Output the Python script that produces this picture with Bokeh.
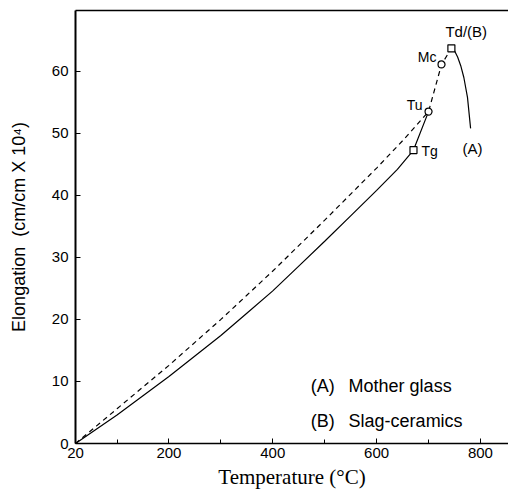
from bokeh.plotting import figure
from bokeh.models import LinearAxis, FixedTicker, Range1d, ColumnDataSource, Label
from bokeh.core.properties import value
from bokeh.embed import file_html
from bokeh.resources import INLINE

# ---- data ----
# (A) Mother glass, solid, up to Tu
temp_A = [20, 60, 100, 150, 200, 250, 300, 350, 400, 450, 500, 550, 600, 640, 671, 700]
elong_A = [0, 2.3, 4.6, 7.7, 10.8, 14.1, 17.4, 21.0, 24.6, 28.6, 32.6, 36.7, 40.8, 44.2, 47.3, 53.5]
# (A) softening branch after Td
temp_A2 = [744, 750, 756, 762, 768, 775, 781]
elong_A2 = [63.7, 63.3, 62.3, 60.9, 59.0, 55.8, 50.8]
# (B) Slag-ceramics, dashed, up to Td
temp_B = [20, 60, 100, 150, 200, 250, 300, 350, 400, 450, 500, 550, 600, 650, 700, 725, 744]
elong_B = [0, 2.8, 5.6, 9.1, 12.6, 16.3, 20.0, 23.9, 27.8, 31.9, 36.0, 40.2, 44.4, 48.8, 53.5, 61.1, 63.7]
# characteristic points
pt_names = ["Tg", "Tu", "Mc", "Td"]
pt_temp = [671, 700, 725, 744]
pt_elong = [47.3, 53.5, 61.1, 63.7]
pt_marker = ["square", "circle", "circle", "square"]

x_major = [20, 200, 400, 600, 800]
x_minor = [100, 300, 500, 700]
y_major = [0, 10, 20, 30, 40, 50, 60]

FONT = "Liberation Sans"
NB = "\u00a0"

p = figure(width=508, height=498, output_backend="svg", toolbar_location=None,
           x_range=Range1d(20, 854), y_range=Range1d(0, 69.8),
           min_border_left=75, min_border_right=0, min_border_top=10, min_border_bottom=55,
           x_axis_label="Temperature (°C)",
           y_axis_label="Elongation" + NB + NB + "(cm/cm X 10⁴)")
p.grid.visible = False
p.outline_line_color = None

xa = p.xaxis[0]
xa.ticker = FixedTicker(ticks=x_major, minor_ticks=x_minor)
ya = p.yaxis[0]
ya.ticker = FixedTicker(ticks=y_major)
for ax in (xa, ya):
    ax.major_tick_in = 5
    ax.major_tick_out = 0
    ax.minor_tick_in = 4
    ax.minor_tick_out = 0
    ax.axis_line_color = "black"
    ax.major_tick_line_color = "black"
    ax.minor_tick_line_color = "black"
    ax.major_label_text_font = FONT
    ax.major_label_text_font_size = "15px"
    ax.major_label_text_color = "black"
    ax.axis_label_text_font_style = "normal"
    ax.axis_label_text_color = "black"
xa.axis_line_width = 1.5
ya.axis_line_width = 2
ya.minor_tick_line_color = None
xa.major_label_standoff = 4
ya.major_label_standoff = 7
xa.axis_label_text_font = "Liberation Serif"
xa.axis_label_text_font_size = "21px"
xa.axis_label_standoff = 4
ya.axis_label_text_font = FONT
ya.axis_label_text_font_size = "18px"
ya.axis_label_standoff = 20

top = LinearAxis(ticker=FixedTicker(ticks=[]), major_tick_in=0, major_tick_out=0,
                 minor_tick_in=0, minor_tick_out=0, major_label_standoff=0,
                 axis_line_width=1.5, axis_line_color="black")
p.add_layout(top, "above")

# curves
p.line(temp_A, elong_A, line_color="black", line_width=1.2)
p.line(temp_A2, elong_A2, line_color="black", line_width=1.2)
p.line(temp_B, elong_B, line_color="black", line_width=1.2, line_dash="5 4")

src = ColumnDataSource(dict(x=pt_temp, y=pt_elong, m=pt_marker, name=pt_names))
p.scatter("x", "y", marker="m", source=src, size=7, fill_color="white",
          line_color="black", line_width=1.2)

# point labels (offsets in screen pixels from each point)
def lbl(i, text, dx, dy, align, size="14px"):
    p.text(x=[pt_temp[i]], y=[pt_elong[i]], text=[text], x_offset=dx, y_offset=dy,
           text_align=align, text_baseline="middle", text_font=value(FONT),
           text_font_size=size, text_color="black")

lbl(0, "Tg", 8, 1, "left")
lbl(1, "Tu", -6, -7, "right")
lbl(2, "Mc", -5, -7, "right")
lbl(3, "Td/(B)", -6, -17, "left", "15px")

p.text(x=[temp_A2[-1]], y=[elong_A2[-1]], text=["(A)"], x_offset=-8, y_offset=20,
       text_align="left", text_baseline="middle", text_font=value(FONT),
       text_font_size="15px", text_color="black")

# legend texts
for yv, tag, t in [(9.2, "(A)", "Mother glass"), (3.7, "(B)", "Slag-ceramics")]:
    p.add_layout(Label(x=473, y=yv, text=tag, text_font=FONT, text_font_size="18px",
                       text_baseline="middle", text_align="left", text_color="black"))
    p.add_layout(Label(x=546, y=yv, text=t, text_font=FONT, text_font_size="18px",
                       text_baseline="middle", text_align="left", text_color="black"))

open("out.html", "w").write(file_html(p, INLINE))
